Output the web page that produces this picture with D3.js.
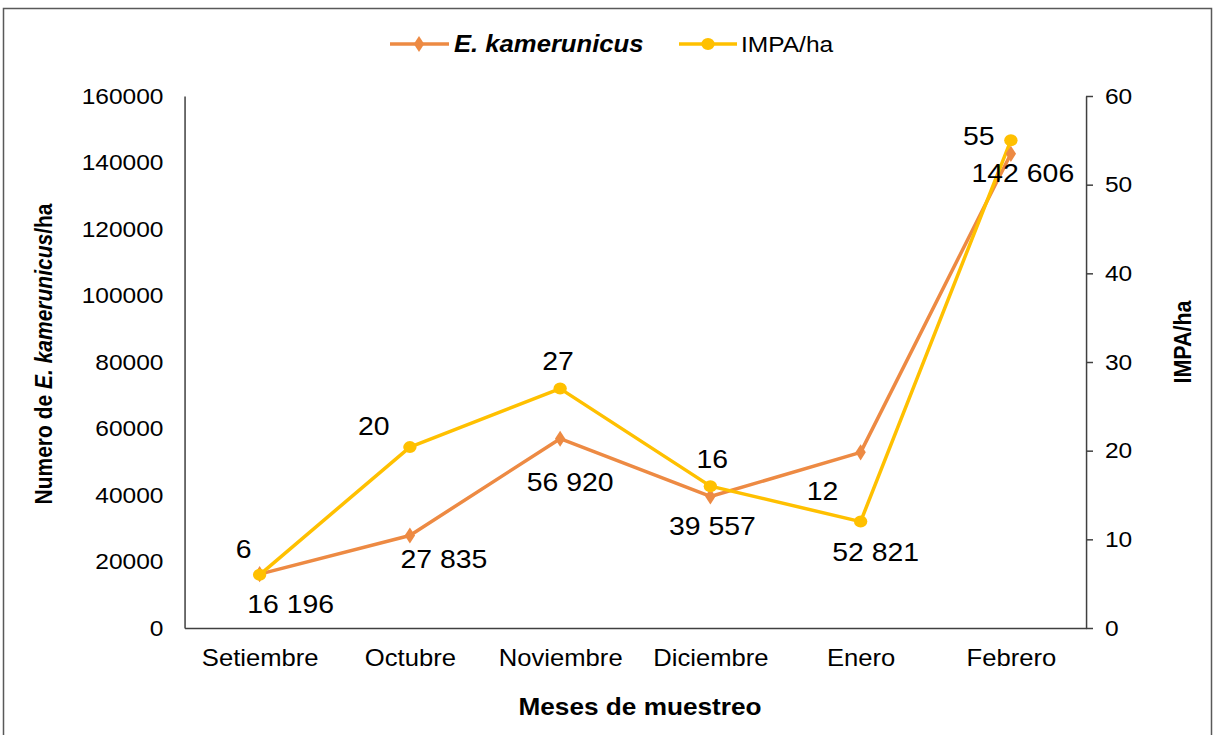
<!DOCTYPE html>
<html>
<head>
<meta charset="utf-8">
<script src="https://cdn.jsdelivr.net/npm/d3@7"></script>
<style>
  html, body { margin: 0; padding: 0; background: #fff; }
  svg { display: block; font-family: "Liberation Sans", Arial, sans-serif; }
  .axis path, .axis line, .frame, .series { vector-effect: non-scaling-stroke; }
</style>
</head>
<body>
<div id="chart"></div>
<script>
// data
const months = ["Setiembre", "Octubre", "Noviembre", "Diciembre", "Enero", "Febrero"];
const kamerunicus = [16196, 27835, 56920, 39557, 52821, 142606];
const impa = [6, 20.4, 27, 16, 12, 55];
const leftTicks = [0, 20000, 40000, 60000, 80000, 100000, 120000, 140000, 160000];
const rightTicks = [0, 10, 20, 30, 40, 50, 60];

// label offsets from each point (screen px) - placed by hand like the original
const kamLabelOffset = [[31, 30], [34, 23], [10, 43], [2, 29], [15, 99], [12, 19]];
const impaLabelOffset = [[-16, -26], [-36, -21], [-2, -28], [2, -27], [-38, -31], [-32, -5]];

const orange = "#ED8A43";
const yellow = "#FFC000";
const axisColor = "#404040";

// the original picture is stretched sideways, so draw in a narrower viewBox
const k = 1.115;
const px = v => v / k;
const W = 1217, H = 735;

const margin = { top: 96, right: px(W - 1086), bottom: H - 628, left: px(184.5) };
const innerW = px(W) - margin.left - margin.right;
const innerH = H - margin.top - margin.bottom;

const root = d3.select("#chart")
  .append("svg")
  .attr("width", W)
  .attr("height", H)
  .attr("viewBox", `0 0 ${px(W)} ${H}`)
  .attr("preserveAspectRatio", "none");

root.append("rect")
  .attr("class", "frame")
  .attr("x", px(3.5)).attr("y", 8.5)
  .attr("width", px(1208)).attr("height", 800)
  .attr("fill", "none")
  .attr("stroke", "#595959")
  .attr("stroke-width", 1.5);

const svg = root.append("g")
  .attr("transform", `translate(${margin.left}, ${margin.top})`);

const x = d3.scalePoint().domain(months).range([0, innerW]).padding(0.5);
const yL = d3.scaleLinear().domain([0, 160000]).range([innerH, 0]);
const yR = d3.scaleLinear().domain([0, 60]).range([innerH, 0]);

// axes
const gL = svg.append("g")
  .attr("class", "axis")
  .call(d3.axisLeft(yL).tickValues(leftTicks).tickFormat(d3.format("d")).tickSize(0).tickPadding(px(21)));

const gR = svg.append("g")
  .attr("class", "axis")
  .attr("transform", `translate(${innerW}, 0)`)
  .call(d3.axisRight(yR).tickValues(rightTicks).tickSize(px(7)).tickSizeOuter(0).tickPadding(px(12)));

const gX = svg.append("g")
  .attr("class", "axis")
  .attr("transform", `translate(0, ${innerH})`)
  .call(d3.axisBottom(x).tickSize(0).tickPadding(22));

[gL, gR, gX].forEach(g => {
  g.select(".domain").attr("stroke", axisColor).attr("stroke-width", 1.5);
  g.selectAll(".tick line").attr("stroke", axisColor).attr("stroke-width", 1.5);
  g.selectAll("text").attr("fill", "#000").attr("font-family", "Liberation Sans, Arial, sans-serif");
});
gL.selectAll("text").attr("font-size", 22);
gR.selectAll("text").attr("font-size", 22);
gX.selectAll("text").attr("font-size", 23);

// lines
const kamLine = d3.line()
  .x((d, i) => x(months[i]))
  .y(d => yL(d));

const impaLine = d3.line()
  .x((d, i) => x(months[i]))
  .y(d => yR(d));

svg.append("path")
  .datum(kamerunicus)
  .attr("class", "series")
  .attr("fill", "none")
  .attr("stroke", orange)
  .attr("stroke-width", 3.5)
  .attr("stroke-linejoin", "round")
  .attr("d", kamLine);

svg.append("path")
  .datum(impa)
  .attr("class", "series")
  .attr("fill", "none")
  .attr("stroke", yellow)
  .attr("stroke-width", 3.5)
  .attr("stroke-linejoin", "round")
  .attr("d", impaLine);

// markers
const diamond = d3.symbol().type(d3.symbolDiamond).size(75);

svg.selectAll(".kam-pt")
  .data(kamerunicus)
  .join("path")
  .attr("class", "kam-pt")
  .attr("transform", (d, i) => `translate(${x(months[i])}, ${yL(d)})`)
  .attr("d", diamond)
  .attr("fill", orange);

svg.selectAll(".impa-pt")
  .data(impa)
  .join("circle")
  .attr("class", "impa-pt")
  .attr("cx", (d, i) => x(months[i]))
  .attr("cy", d => yR(d))
  .attr("r", 6)
  .attr("fill", yellow);

// data labels
const spaced = d3.formatLocale({ decimal: ",", thousands: " ", grouping: [3], currency: ["", ""] }).format(",d");

svg.selectAll(".kam-lbl")
  .data(kamerunicus)
  .join("text")
  .attr("class", "kam-lbl")
  .attr("x", (d, i) => x(months[i]) + px(kamLabelOffset[i][0]))
  .attr("y", (d, i) => yL(d) + kamLabelOffset[i][1])
  .attr("dy", "0.36em")
  .attr("text-anchor", "middle")
  .attr("font-size", 25.5)
  .attr("fill", "#000")
  .text(d => spaced(d));

svg.selectAll(".impa-lbl")
  .data(impa)
  .join("text")
  .attr("class", "impa-lbl")
  .attr("x", (d, i) => x(months[i]) + px(impaLabelOffset[i][0]))
  .attr("y", (d, i) => yR(d) + impaLabelOffset[i][1])
  .attr("dy", "0.36em")
  .attr("text-anchor", "middle")
  .attr("font-size", 25.5)
  .attr("fill", "#000")
  .text(d => d3.format(".0f")(d));

// axis titles
root.append("text")
  .attr("x", px(640)).attr("y", 715)
  .attr("text-anchor", "middle")
  .attr("font-size", 23.5)
  .attr("font-weight", "bold")
  .text("Meses de muestreo");

const yTitle = root.append("text")
  .attr("transform", `translate(${px(52)}, 354) rotate(-90)`)
  .attr("text-anchor", "middle")
  .attr("font-size", 21)
  .attr("font-weight", "bold");
yTitle.append("tspan").text("Numero de ");
yTitle.append("tspan").attr("font-style", "italic").text("E. kamerunicus");
yTitle.append("tspan").text("/ha");

root.append("text")
  .attr("transform", `translate(${px(1191)}, 342) rotate(-90)`)
  .attr("text-anchor", "middle")
  .attr("font-size", 21.5)
  .attr("font-weight", "bold")
  .text("IMPA/ha");

// legend
const legend = root.append("g").attr("transform", "translate(0, 44)");

legend.append("line")
  .attr("class", "series")
  .attr("x1", px(390)).attr("x2", px(449))
  .attr("stroke", orange).attr("stroke-width", 3.5);
legend.append("path")
  .attr("transform", `translate(${px(419)}, 0)`)
  .attr("d", diamond)
  .attr("fill", orange);
legend.append("text")
  .attr("x", px(454)).attr("dy", "0.36em")
  .attr("font-size", 23)
  .attr("font-weight", "bold")
  .attr("font-style", "italic")
  .text("E. kamerunicus");

legend.append("line")
  .attr("class", "series")
  .attr("x1", px(679)).attr("x2", px(737))
  .attr("stroke", yellow).attr("stroke-width", 3.5);
legend.append("circle")
  .attr("cx", px(708))
  .attr("r", 6)
  .attr("fill", yellow);
legend.append("text")
  .attr("x", px(741)).attr("dy", "0.36em")
  .attr("font-size", 22)
  .text("IMPA/ha");
</script>
</body>
</html>
